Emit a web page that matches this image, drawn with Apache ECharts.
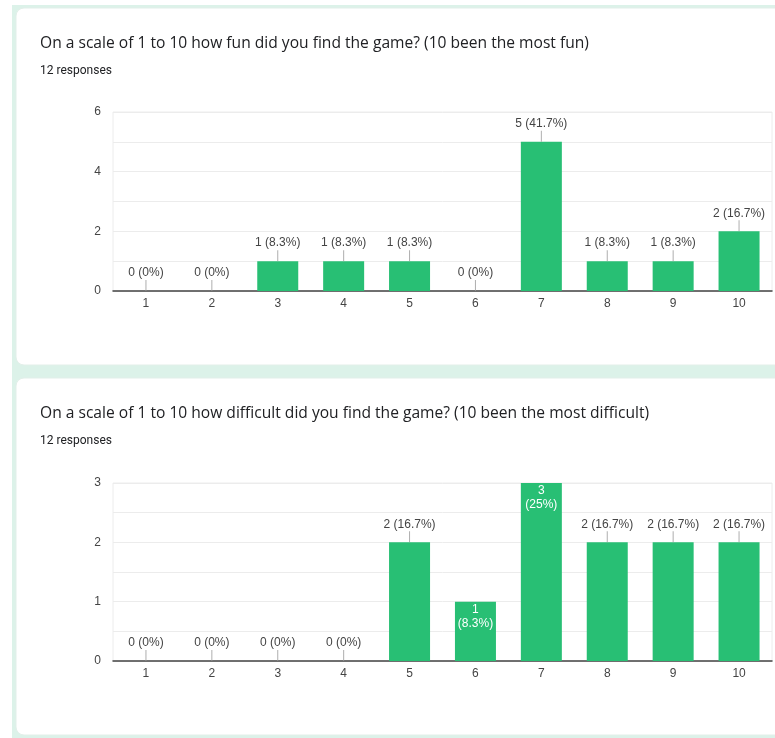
<!DOCTYPE html>
<html>
<head>
<meta charset="utf-8">
<title>Game survey results</title>
<script src="https://cdn.jsdelivr.net/npm/echarts@6/dist/echarts.min.js"></script>
<style>
  html, body { margin: 0; padding: 0; background: #ffffff; }
  #chart { width: 775px; height: 738px; }
</style>
</head>
<body>
<div id="chart"></div>
<script>
// Survey answers: number of respondents per rating
const ratings = ['1', '2', '3', '4', '5', '6', '7', '8', '9', '10'];
const funCounts = [0, 0, 1, 1, 1, 0, 5, 1, 1, 2];
const difficultyCounts = [0, 0, 0, 0, 2, 1, 3, 2, 2, 2];
const totalResponses = 12;

const funTitle = 'On a scale of 1 to 10 how fun did you find the game? (10 been the most fun)';
const difficultyTitle = 'On a scale of 1 to 10 how difficult did you find the game? (10 been the most difficult)';
const responsesText = totalResponses + ' responses';

const funAxisMax = 6;
const funAxisStep = 2;
const difficultyAxisMax = 3;
const difficultyAxisStep = 1;

// bars whose label sits inside the bar instead of above it
const funInside = [];
const difficultyInside = [5, 6];

const GREEN = '#28bf74';
const TEXT = '#444444';
const GRID = '#ececec';

function pct(v) {
  let p = (v / totalResponses * 100).toFixed(1);
  if (p.endsWith('.0')) p = p.slice(0, -2);
  return p;
}

function barData(values, inside) {
  return values.map((v, i) => {
    if (inside.indexOf(i) >= 0) {
      return {
        value: v,
        label: {
          position: 'insideTop',
          distance: 1,
          color: '#ffffff',
          lineHeight: 14,
          formatter: v + '\n(' + pct(v) + '%)'
        }
      };
    }
    return v;
  });
}

function leaderData(values, inside) {
  return values.map((v, i) => inside.indexOf(i) >= 0 ? '-' : v);
}

const chart = echarts.init(document.getElementById('chart'), null, { renderer: 'canvas' });

function yAxis(gridIndex, max, step) {
  return {
    type: 'value',
    gridIndex: gridIndex,
    min: 0,
    max: max,
    interval: step,
    axisLine: { show: false },
    axisTick: { show: false },
    axisLabel: { color: TEXT, fontSize: 12, fontFamily: 'Liberation Sans, Arial', margin: 12 },
    splitLine: { show: true, lineStyle: { color: GRID, width: 1 } },
    minorTick: { show: false, splitNumber: 2 },
    minorSplitLine: { show: true, lineStyle: { color: GRID, width: 1 } }
  };
}

function xAxis(gridIndex) {
  return {
    type: 'category',
    gridIndex: gridIndex,
    data: ratings,
    axisLine: { show: true, lineStyle: { color: '#444444', width: 1.5 } },
    axisTick: { show: false },
    axisLabel: { color: TEXT, fontSize: 12, fontFamily: 'Liberation Sans, Arial', margin: 7 },
    splitLine: { show: false }
  };
}

function barSeries(idx, values, inside) {
  return {
    type: 'bar',
    xAxisIndex: idx,
    yAxisIndex: idx,
    data: barData(values, inside),
    barWidth: 41,
    itemStyle: { color: GREEN },
    label: {
      show: true,
      position: 'top',
      distance: 12,
      color: TEXT,
      fontSize: 12,
      fontFamily: 'Liberation Sans, Arial',
      formatter: p => p.value + ' (' + pct(p.value) + '%)'
    },
    emphasis: { disabled: true },
    animation: false,
    z: 2
  };
}

function leaderSeries(idx, values, inside) {
  return {
    type: 'scatter',
    xAxisIndex: idx,
    yAxisIndex: idx,
    data: leaderData(values, inside),
    symbol: 'rect',
    symbolSize: [1, 11],
    symbolOffset: [0, -5.5],
    itemStyle: { color: '#9a9a9a' },
    silent: true,
    animation: false,
    z: 3
  };
}

const cardStyle = { fill: '#ffffff', stroke: '#e2efe9', lineWidth: 1 };

function titleBlock(text, top) {
  return {
    text: text,
    subtext: responsesText,
    left: 40,
    top: top,
    padding: 0,
    itemGap: 13,
    textStyle: { fontFamily: 'Open Sans', fontSize: 15.6, fontWeight: 'normal', color: '#202124' },
    subtextStyle: { fontFamily: 'Roboto', fontSize: 12, color: '#202124' }
  };
}

chart.setOption({
  animation: false,
  textStyle: { fontFamily: 'Liberation Sans, Arial' },
  graphic: [
    { type: 'rect', z: -20, shape: { x: 12, y: 5, width: 770, height: 740 }, style: { fill: '#dcf2e9' } },
    { type: 'rect', z: -10, shape: { x: 16, y: 8, width: 770, height: 357, r: 8 }, style: cardStyle },
    { type: 'rect', z: -10, shape: { x: 16, y: 378, width: 770, height: 357, r: 8 }, style: cardStyle }
  ],
  title: [titleBlock(funTitle, 36), titleBlock(difficultyTitle, 406)],
  grid: [
    { left: 113, top: 112, width: 659, height: 179, show: true, borderColor: GRID, borderWidth: 1, backgroundColor: 'transparent' },
    { left: 113, top: 483, width: 659, height: 178, show: true, borderColor: GRID, borderWidth: 1, backgroundColor: 'transparent' }
  ],
  xAxis: [xAxis(0), xAxis(1)],
  yAxis: [yAxis(0, funAxisMax, funAxisStep), yAxis(1, difficultyAxisMax, difficultyAxisStep)],
  series: [
    barSeries(0, funCounts, funInside),
    leaderSeries(0, funCounts, funInside),
    barSeries(1, difficultyCounts, difficultyInside),
    leaderSeries(1, difficultyCounts, difficultyInside)
  ]
});
</script>
</body>
</html>
